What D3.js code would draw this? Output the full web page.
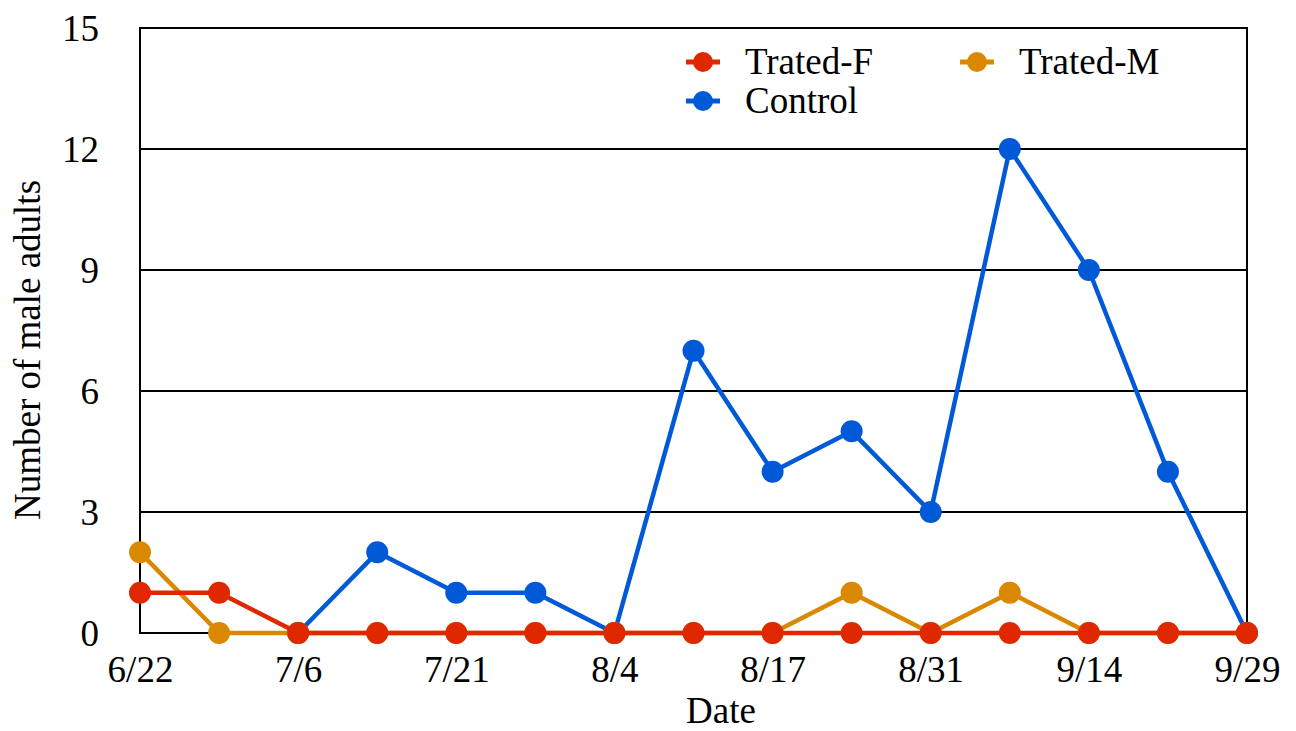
<!DOCTYPE html>
<html>
<head>
<meta charset="utf-8">
<script src="https://cdn.jsdelivr.net/npm/d3@7"></script>
<style>
  body { margin: 0; background: #fff; }
  svg { display: block; }
  text { font-family: "Liberation Serif", "Times New Roman", serif; fill: #000; }
</style>
</head>
<body>
<svg id="chart" width="1296" height="731"></svg>
<script>
// Survey dates (every other one labelled on the axis)
const dates = ["6/22", "6/29", "7/6", "7/13", "7/21", "7/28", "8/4", "8/10", "8/17", "8/24", "8/31", "9/7", "9/14", "9/21", "9/29"];
const tickLabels = ["6/22", "7/6", "7/21", "8/4", "8/17", "8/31", "9/14", "9/29"];
const yTicks = [0, 3, 6, 9, 12, 15];

// Counts of male adults per date
const tratedF = [1, 1, 0, 0, 0, 0, 0, 0, 0, 0, 0, 0, 0, 0, 0];
const tratedM = [2, 0, 0, 0, 0, 0, 0, 0, 0, 1, 0, 1, 0, 0, 0];
const control = [null, null, 0, 2, 1, 1, 0, 7, 4, 5, 3, 12, 9, 4, 0];

const seriesNames = ["Trated-F", "Trated-M", "Control"];
const seriesColors = ["#e02800", "#d98800", "#005ad8"];

const FONT = "'Liberation Serif', 'Times New Roman', serif";
const svg = d3.select("#chart");
const margin = { left: 140, right: 49, top: 28, bottom: 98 };
const W = 1296, H = 731;
const x = d3.scalePoint().domain(dates).range([margin.left, W - margin.right]);
const y = d3.scaleLinear().domain([0, 15]).range([H - margin.bottom, margin.top]);

// Horizontal gridlines
svg.append("g").selectAll("line").data(yTicks.filter(t => t > 0 && t < 15)).join("line")
  .attr("x1", margin.left).attr("x2", W - margin.right)
  .attr("y1", d => y(d)).attr("y2", d => y(d))
  .attr("stroke", "#000").attr("stroke-width", 2);

// Frame
svg.append("rect")
  .attr("x", margin.left).attr("y", margin.top)
  .attr("width", W - margin.right - margin.left)
  .attr("height", H - margin.bottom - margin.top)
  .attr("fill", "none").attr("stroke", "#000").attr("stroke-width", 2);

// Y axis labels
const yAxis = d3.axisLeft(y).tickValues(yTicks).tickSize(0).tickPadding(41);
const gy = svg.append("g").attr("transform", `translate(${margin.left},0)`).call(yAxis)
  .attr("font-family", FONT).attr("font-size", 37);
gy.select(".domain").remove();
gy.selectAll("text").attr("fill", "#000").attr("dy", "0.33em");

// X axis labels
const xAxis = d3.axisBottom(x).tickValues(tickLabels).tickSize(0).tickPadding(23);
const gx = svg.append("g").attr("transform", `translate(0,${H - margin.bottom})`).call(xAxis)
  .attr("font-family", FONT).attr("font-size", 37);
gx.select(".domain").remove();
gx.selectAll("text").attr("fill", "#000");

// Axis titles
svg.append("text").attr("x", 721).attr("y", 723)
  .attr("text-anchor", "middle").style("font-size", "37px").text("Date");
svg.append("text").attr("transform", `translate(40,350) rotate(-90)`)
  .attr("text-anchor", "middle").style("font-size", "37px").text("Number of male adults");

// Series: Control first, then Trated-M, then Trated-F on top
const allSeries = [
  { name: "Control", values: control, color: seriesColors[2] },
  { name: "Trated-M", values: tratedM, color: seriesColors[1] },
  { name: "Trated-F", values: tratedF, color: seriesColors[0] }
];
const line = d3.line()
  .defined(d => d.v !== null)
  .x(d => x(d.date)).y(d => y(d.v));

allSeries.forEach(s => {
  const pts = s.values.map((v, i) => ({ date: dates[i], v }));
  const g = svg.append("g");
  g.append("path").datum(pts).attr("d", line)
    .attr("fill", "none").attr("stroke", s.color).attr("stroke-width", 4.5)
    .attr("stroke-linejoin", "round");
  g.selectAll("circle").data(pts.filter(d => d.v !== null)).join("circle")
    .attr("cx", d => x(d.date)).attr("cy", d => y(d.v)).attr("r", 11)
    .attr("fill", s.color);
});

// Legend
const legendItems = [
  { name: seriesNames[0], color: seriesColors[0], lx: 703, ly: 62 },
  { name: seriesNames[1], color: seriesColors[1], lx: 977, ly: 62 },
  { name: seriesNames[2], color: seriesColors[2], lx: 703, ly: 101 }
];
const lg = svg.append("g");
legendItems.forEach(it => {
  lg.append("line").attr("x1", it.lx - 17).attr("x2", it.lx + 17)
    .attr("y1", it.ly).attr("y2", it.ly)
    .attr("stroke", it.color).attr("stroke-width", 5);
  lg.append("circle").attr("cx", it.lx).attr("cy", it.ly).attr("r", 10).attr("fill", it.color);
  lg.append("text").attr("x", it.lx + 42).attr("y", it.ly + 12)
    .style("font-size", "37px").text(it.name);
});
</script>
</body>
</html>
